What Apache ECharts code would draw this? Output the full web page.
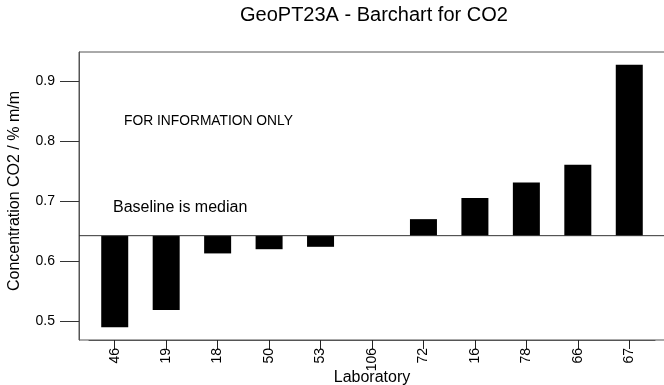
<!DOCTYPE html>
<html><head><meta charset="utf-8">
<script src="https://cdn.jsdelivr.net/npm/echarts@6/dist/echarts.min.js"></script>
<style>html,body{margin:0;padding:0;background:#fff}#c{width:664px;height:385px}</style>
</head><body><div id="c"></div>
<script>
const laboratories = ["46","19","18","50","53","106","72","16","78","66","67"];
const co2Values = [0.490,0.519,0.613,0.620,0.624,0.6425,0.670,0.705,0.731,0.7605,0.927];
const yTickValues = [0.5,0.6,0.7,0.8,0.9];
const yMin = 0.469, yMax = 0.948;
const sorted = co2Values.slice().sort((a,b)=>a-b);
const median = sorted[Math.floor(sorted.length/2)];
const FONT = 'Liberation Sans, Arial, sans-serif';
const chart = echarts.init(document.getElementById('c'), null, {renderer:'canvas'});
chart.setOption({
  animation:false,
  backgroundColor:'#fff',
  textStyle:{fontFamily:FONT, color:'#000'},
  title:[
    {text:'GeoPT23A - Barchart for CO2', left:240, top:5, padding:0, textStyle:{fontFamily:FONT,fontSize:20,fontWeight:'normal',color:'#000'}},
    {text:'FOR INFORMATION ONLY', left:124, top:114, padding:0, textStyle:{fontFamily:FONT,fontSize:13.8,fontWeight:'normal',color:'#000'}},
    {text:'Baseline is median', left:113, top:200, padding:0, textStyle:{fontFamily:FONT,fontSize:16,fontWeight:'normal',color:'#000'}}
  ],
  grid:[
    {left:79, top:52, width:620, height:288, show:true, borderColor:'#555', borderWidth:1, backgroundColor:'transparent', containLabel:false, outerBoundsMode:'none'},
    {left:89, top:52, width:566, height:288, containLabel:false, outerBoundsMode:'none'}
  ],
  xAxis:[
    {gridIndex:0, type:'value', min:0, max:1, show:false},
    {gridIndex:1, type:'category', data:laboratories, position:'bottom',
     axisLine:{show:true, onZero:false, lineStyle:{color:'#555'}}, axisTick:{show:true, alignWithLabel:true, length:9, lineStyle:{color:'#222', width:1}},
     axisLabel:{rotate:90, fontSize:14, margin:8, padding:[0,0,6,0], color:'#000', fontFamily:FONT},
     name:'Laboratory', nameLocation:'middle', nameGap:30, nameMoveOverlap:false, nameTextStyle:{fontSize:16, color:'#000', fontFamily:FONT}}
  ],
  yAxis:[
    {gridIndex:0, type:'value', min:yMin, max:yMax, splitLine:{show:false},
     axisLine:{show:true, lineStyle:{color:'#555'}},
     axisTick:{show:true, length:19, customValues:yTickValues, lineStyle:{color:'#333'}},
     axisLabel:{customValues:yTickValues, fontSize:14, margin:24, color:'#000', fontFamily:FONT},
     name:'Concentration CO2 / % m/m', nameLocation:'middle', nameGap:56, nameTextStyle:{fontSize:16,color:'#000',fontFamily:FONT,padding:[0,0,0,10]}},
    {gridIndex:1, type:'value', min:yMin-median, max:yMax-median, show:false}
  ],
  series:[
    {type:'line', xAxisIndex:0, yAxisIndex:0, data:[[0,median],[1,median]], symbol:'none', lineStyle:{color:'#333', width:1}, silent:true},
    {type:'bar', xAxisIndex:1, yAxisIndex:1, data:co2Values.map(v=>v-median), barWidth:27, itemStyle:{color:'#000'}}
  ]
});
</script></body></html>
